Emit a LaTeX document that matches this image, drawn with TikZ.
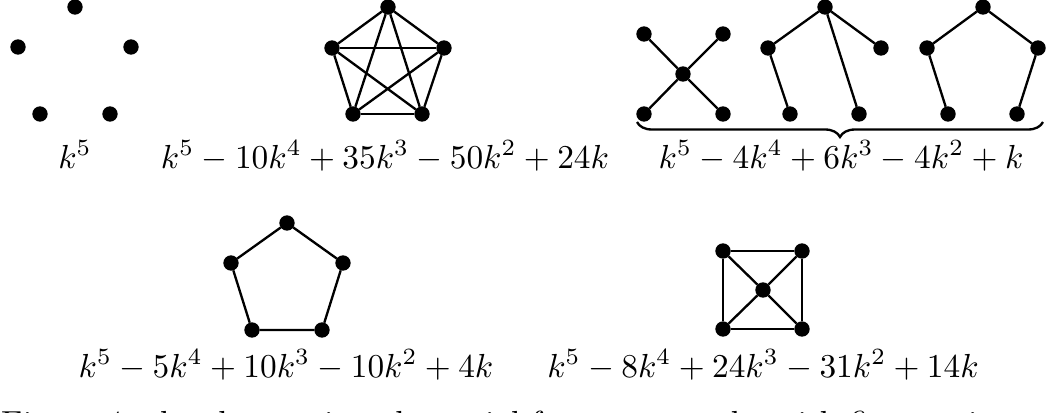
\documentclass[tikz,border=0pt]{standalone}
\usepackage{amsmath}
\usepackage{tikz}
\usetikzlibrary{decorations.pathreplacing}

\tikzset{vertex/.style={circle,fill=black,draw=black,inner sep=0pt,minimum size=3.9pt},
         poly/.style={anchor=base,inner sep=0pt}}

\begin{document}
\begin{tikzpicture}[x=0.3pt,y=-0.3pt,line width=0.7pt]
\useasboundingbox (0,0) rectangle (1046,412);

% empty graph
\node[vertex] (ea) at (75,7) {};
\node[vertex] (eb) at (18,47) {};
\node[vertex] (ec) at (131,47) {};
\node[vertex] (ed) at (40,114) {};
\node[vertex] (ee) at (110,114) {};
\node[poly] (pe) at (75,168) {$k^5$};

% complete graph
\node[vertex] (ka) at (388,7) {};
\node[vertex] (kb) at (332,48) {};
\node[vertex] (kc) at (444,48) {};
\node[vertex] (kd) at (353,114) {};
\node[vertex] (ke) at (422,114) {};
\foreach \u/\v in {ka/kb,ka/kc,ka/kd,ka/ke,kb/kc,kb/kd,kb/ke,kc/kd,kc/ke,kd/ke}
  \draw (\u) -- (\v);
\node[poly] (pk) at (385,168) {$k^5-10k^4+35k^3-50k^2+24k$};

% trees
\node[vertex] (sa) at (644,34) {};
\node[vertex] (sb) at (723,34) {};
\node[vertex] (sc) at (683,74) {};
\node[vertex] (sd) at (644,114) {};
\node[vertex] (se) at (723,114) {};
\foreach \v in {sa,sb,sd,se}
  \draw (sc) -- (\v);

\node[vertex] (ta) at (825,7) {};
\node[vertex] (tb) at (768,48) {};
\node[vertex] (tc) at (881,48) {};
\node[vertex] (td) at (790,114) {};
\node[vertex] (te) at (859,114) {};
\draw (td) -- (tb) -- (ta) -- (tc);
\draw (ta) -- (te);

\node[vertex] (qa) at (983,7) {};
\node[vertex] (qb) at (927,48) {};
\node[vertex] (qc) at (1038,48) {};
\node[vertex] (qd) at (948,114) {};
\node[vertex] (qe) at (1017,114) {};
\draw (qd) -- (qb) -- (qa) -- (qc) -- (qe);

\coordinate (bl) at (637,122);
\coordinate (br) at (1043,122);
\draw[decorate,decoration={brace,mirror,amplitude=4.5pt}] (bl) -- (br);
\node[poly] (pt) at (841,168) {$k^5-4k^4+6k^3-4k^2+k$};

% cycle
\node[vertex] (ca) at (287,223) {};
\node[vertex] (cb) at (231,263) {};
\node[vertex] (cc) at (343,263) {};
\node[vertex] (cd) at (252,330) {};
\node[vertex] (ce) at (322,330) {};
\draw (ca) -- (cc) -- (ce) -- (cd) -- (cb) -- (ca);
\node[poly] (pc) at (286,377) {$k^5-5k^4+10k^3-10k^2+4k$};

% wheel
\node[vertex] (wa) at (723,251) {};
\node[vertex] (wb) at (802,251) {};
\node[vertex] (wc) at (763,290) {};
\node[vertex] (wd) at (723,329) {};
\node[vertex] (we) at (802,329) {};
\draw (wa) -- (wb) -- (we) -- (wd) -- (wa);
\foreach \v in {wa,wb,wd,we}
  \draw (wc) -- (\v);
\node[poly] (pw) at (763,377) {$k^5-8k^4+24k^3-31k^2+14k$};

% caption, cut by the page
\node[anchor=base west,inner sep=0pt] (cap) at (0,434)
  {Figure 4: the chromatic polynomial for some graphs with five vertices};

\end{tikzpicture}
\end{document}
